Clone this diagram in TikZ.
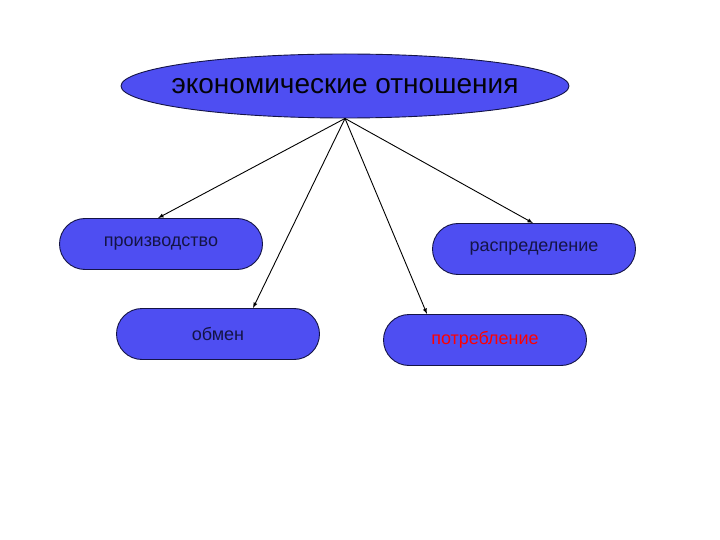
\documentclass[tikz,border=0pt]{standalone}
\usepackage{fontspec}
\setmainfont{Liberation Sans}
\usetikzlibrary{shapes.misc,shapes.geometric,positioning}
\definecolor{boxblue}{RGB}{78,78,242}
\definecolor{edgenavy}{RGB}{20,20,70}

\begin{document}
\begin{tikzpicture}[x=1pt, y=-1pt, >=latex, line width=0.9pt,
        pill/.style={rounded rectangle, draw=edgenavy, fill=boxblue, minimum width=203pt, minimum height=51pt, inner sep=0pt, font=\fontsize{18}{20}\selectfont, text=edgenavy}]
        \useasboundingbox (0,0) rectangle (720,540);

        \node [ellipse, draw=edgenavy, fill=boxblue, minimum width=448pt, minimum height=64pt, inner ysep=0pt, inner xsep=-16pt, font=\fontsize{28}{30}\selectfont, text=black!85!edgenavy] (rel) at (345,86) {экономические отношения};

        \node [pill] (prod) at (161,244) {производство};
        \node [pill] (obm) at (218,334) {обмен};
        \node [pill] (rasp) at (534,249) {распределение};
        \node [pill, text=red] (potr) at (485,340) {потребление};

        \path[->] (rel.south) edge ([xshift=-3pt]prod.north);
        \path[->] (rel.south) edge ([xshift=35pt]obm.north);
        \path[->] (rel.south) edge ([xshift=-58pt]potr.north);
        \path[->] (rel.south) edge ([xshift=-1pt]rasp.north);
    \end{tikzpicture}
\end{document}
